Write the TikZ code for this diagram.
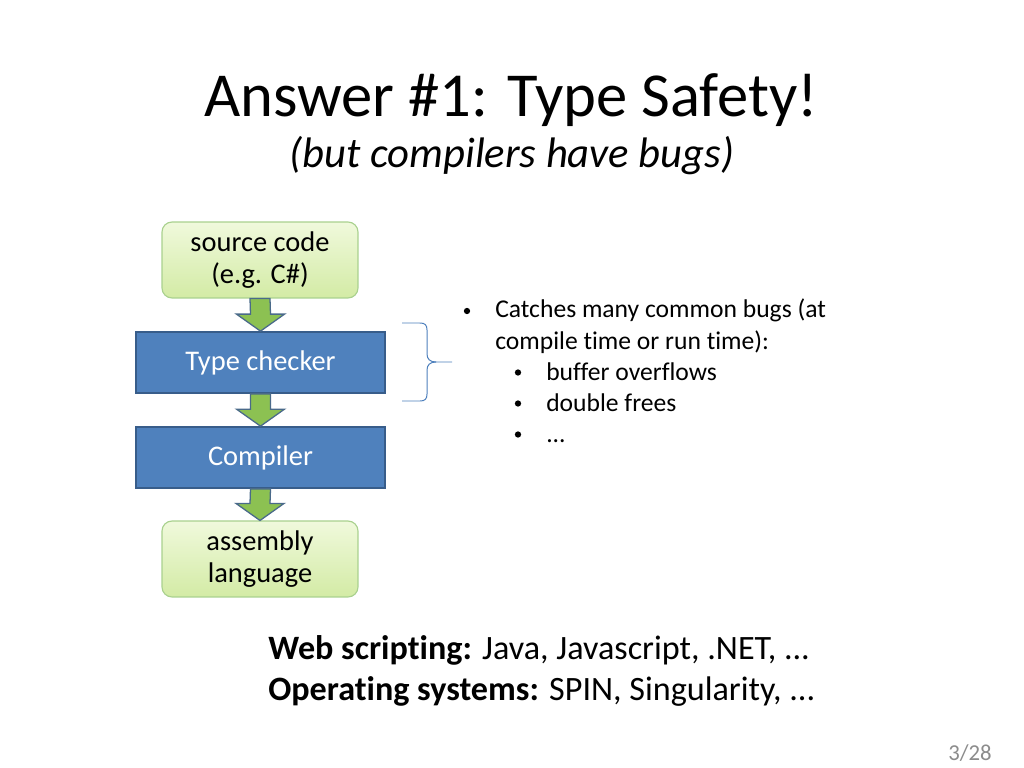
\documentclass[tikz,border=0pt]{standalone}
\usepackage{fontspec}
\setmainfont{Carlito}[Ligatures={NoCommon}]
\usetikzlibrary{calc}
\definecolor{boxblue}{HTML}{4F81BD}
\definecolor{boxblueline}{HTML}{385D8A}
\definecolor{greentop}{HTML}{F0F9DC}
\definecolor{greenbot}{HTML}{D3EBA5}
\definecolor{greenline}{HTML}{A9D18E}
\definecolor{arrowfill}{HTML}{8CC152}
\definecolor{arrowline}{HTML}{4A6A8A}
\definecolor{pagegray}{HTML}{8C8C8C}
\tikzset{
  greenbox/.style={draw=greenline, line width=0.8pt, rounded corners=7pt,
    top color=greentop, bottom color=greenbot, align=center,
    minimum width=137.8pt, minimum height=53.4pt, inner sep=0pt,
    font=\fontsize{20}{23}\selectfont},
  bluebox/.style={draw=boxblueline, line width=1.2pt, fill=boxblue,
    text=white, align=center, minimum width=175.1pt, minimum height=42.9pt,
    inner sep=0pt, font=\fontsize{20}{23}\selectfont},
  blockarrow/.style={fill=arrowfill, draw=arrowline, line width=0.9pt, line join=miter},
  bracestyle/.style={draw=boxblue, line width=0.7pt},
  bulletdot/.style={circle, fill=black, inner sep=0pt, minimum size=4.4pt},
  bodytext/.style={anchor=base west, inner sep=0pt, font=\fontsize{18}{21.6}\selectfont},
  bottomtext/.style={anchor=base west, inner sep=0pt, font=\fontsize{24}{28.8}\selectfont}
}
\newcommand{\flowarrow}[2]{%
  \draw[blockarrow] ($(#1.south)+(-10,0)$) -- ($(#2.north)+(-10,-17)$)
    -- ($(#2.north)+(-24,-17)$) -- (#2.north) -- ($(#2.north)+(24,-17)$)
    -- ($(#2.north)+(10,-17)$) -- ($(#1.south)+(10,0)$) -- cycle;}
\begin{document}
\begin{tikzpicture}[x=0.703125pt, y=-0.703125pt]
\useasboundingbox (0,0) rectangle (1024,768);
\fill[white] (0,0) rectangle (1024,768);

% title
\node[anchor=base, inner sep=0pt, font=\fontsize{44}{52}\selectfont] (title) at (511,117) {Answer \#1: Type Safety!};
\node[anchor=base, inner sep=0pt, font=\fontsize{30}{36}\selectfont\itshape] (subtitle) at (512,168) {(but compilers have bugs)};

% flow chart
\node[greenbox] (src) at (260,260) {source code\\(e.g. C\#)};
\node[bluebox] (tc) at (260.5,362.5) {Type checker};
\node[bluebox] (comp) at (260.5,457.5) {Compiler};
\node[greenbox] (asm) at (260,559) {assembly\\language};

\flowarrow{src}{tc}
\flowarrow{tc}{comp}
\flowarrow{comp}{asm}

% brace
\coordinate (bracetip) at (452,362);
\draw[bracestyle] (402,323) -- (420,323) .. controls (425,323) and (427,325) .. (427,330)
  -- (427,354) .. controls (427,359) and (430,362) .. (436,362) -- (bracetip);
\draw[bracestyle] (436,362) .. controls (430,362) and (427,365) .. (427,370)
  -- (427,394) .. controls (427,399) and (425,401) .. (420,401) -- (402,401);

% bullets
\node[bulletdot] (b1) at (467,311) {};
\node[bodytext] (t1) at (495,318) {Catches many common bugs (at};
\node[bodytext] (t2) at (495,349) {compile time or run time):};
\node[bulletdot] (b2) at (518,372.5) {};
\node[bodytext] (t3) at (546,380) {buffer overflows};
\node[bulletdot] (b3) at (518,403.5) {};
\node[bodytext] (t4) at (546,411) {double frees};
\node[bulletdot] (b4) at (518,434.5) {};
\node[bodytext] (t5) at (546,442) {...};

% bottom text
\node[bottomtext] (web) at (268,659) {\textbf{Web scripting:} Java, Javascript, .NET, ...};
\node[bottomtext] (os) at (268,700) {\textbf{Operating systems:} SPIN, Singularity, ...};

% page number
\node[anchor=base east, inner sep=0pt, text=pagegray, font=\fontsize{16}{18}\selectfont] (page) at (992,760) {3/28};
\end{tikzpicture}
\end{document}
